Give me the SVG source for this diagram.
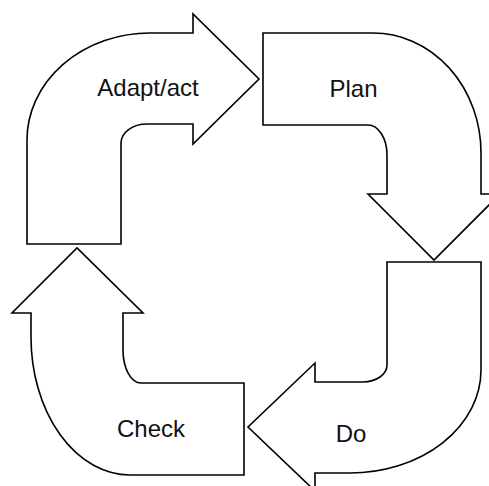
<svg xmlns="http://www.w3.org/2000/svg" width="489" height="486" viewBox="0 0 489 486">
  <style>
    .arrow { fill: #ffffff; stroke: #000000; stroke-width: 1.6; stroke-linejoin: miter; }
    .label { font-family: "Liberation Sans", Arial, sans-serif; font-size: 24px; fill: #111111; text-anchor: middle; }
  </style>
  <rect width="489" height="486" fill="#ffffff"/>
  <g id="connectors"/>
  <!-- Adapt/act: rises on the left and turns right -->
  <g id="adapt">
    <path class="arrow" d="M 27,244 L 27,140 A 123,107 0 0 1 150,33 L 193,33 L 193,14 L 259,79 L 193,144 L 193,124 L 147,124 A 26,19 0 0 0 121,143 L 121,244 Z"/>
    <text class="label" x="148" y="96">Adapt/act</text>
  </g>
  <!-- Plan: runs right along the top and turns down -->
  <g id="plan">
    <path class="arrow" d="M 263,33 L 373,33 A 108,120 0 0 1 481,153 L 481,194 L 500,194 L 434,260 L 368,194 L 387,194 L 387,155 A 19,30 0 0 0 368,125 L 263,125 Z"/>
    <text class="label" x="353.5" y="96.5">Plan</text>
  </g>
  <!-- Do: descends on the right and turns left -->
  <g id="do">
    <path class="arrow" d="M 387,262 L 481,262 L 481,370 A 131,103 0 0 1 350,473 L 315,473 L 315,491 L 248,427 L 315,363 L 315,382 L 363,382 A 24,17 0 0 0 387,365 Z"/>
    <text class="label" x="351" y="442">Do</text>
  </g>
  <!-- Check: runs left along the bottom and turns up -->
  <g id="check">
    <path class="arrow" d="M 244,475 L 130,475 A 99,138 0 0 1 31,337 L 31,313 L 12,313 L 77,248 L 143,313 L 123,313 L 123,350 A 18,33 0 0 0 141,383 L 244,383 Z"/>
    <text class="label" x="151" y="436.5">Check</text>
  </g>
</svg>
